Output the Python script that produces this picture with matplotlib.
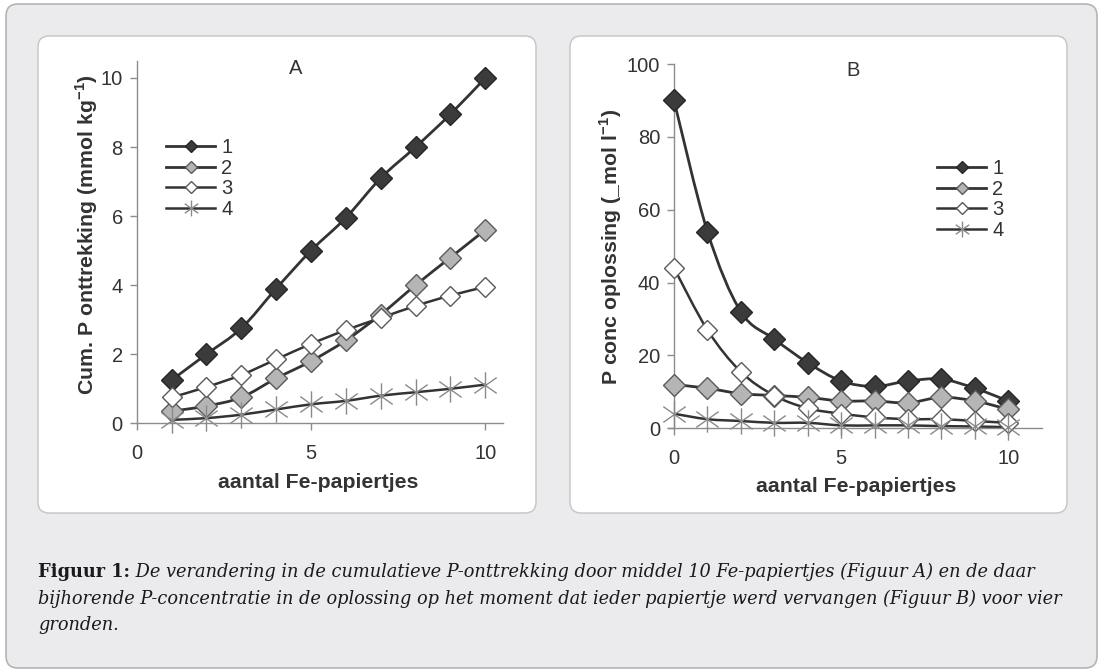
import numpy as np
import matplotlib
matplotlib.use("Agg")
import matplotlib.pyplot as plt
from matplotlib.path import Path
from matplotlib.patches import FancyBboxPatch, PathPatch
from matplotlib.lines import Line2D

# ---- data -------------------------------------------------------------
papers_a = [1, 2, 3, 4, 5, 6, 7, 8, 9, 10]
cum_p_1 = [1.25, 2.0, 2.75, 3.9, 5.0, 5.95, 7.1, 8.0, 8.95, 10.0]
cum_p_2 = [0.35, 0.5, 0.75, 1.3, 1.8, 2.4, 3.15, 4.0, 4.8, 5.6]
cum_p_3 = [0.75, 1.05, 1.4, 1.85, 2.3, 2.7, 3.05, 3.4, 3.7, 3.95]
cum_p_4 = [0.1, 0.15, 0.25, 0.4, 0.55, 0.65, 0.8, 0.9, 1.0, 1.12]

papers_b = [0, 1, 2, 3, 4, 5, 6, 7, 8, 9, 10]
conc_1 = [90, 54, 32, 24.5, 18, 13, 11.5, 13, 13.5, 11, 7.5]
conc_2 = [12, 11, 9.5, 9, 8.5, 7.5, 7.5, 7, 8.5, 7.5, 5.2]
conc_3 = [44, 27, 15.5, 9, 5.5, 4, 3, 2.5, 2.5, 2, 1.5]
conc_4 = [4, 2.5, 2, 1.5, 1.5, 0.8, 0.8, 0.8, 0.6, 0.5, 0.3]

series_labels = ["1", "2", "3", "4"]
x_ticks_a = [0, 5, 10]
y_ticks_a = [0, 2, 4, 6, 8, 10]
x_ticks_b = [0, 5, 10]
y_ticks_b = [0, 20, 40, 60, 80, 100]

caption_bold = "Figuur 1:"
caption_lines = [
    " De verandering in de cumulatieve P-onttrekking door middel 10 Fe-papiertjes (Figuur A) en de daar",
    "bijhorende P-concentratie in de oplossing op het moment dat ieder papiertje werd vervangen (Figuur B) voor vier",
    "gronden.",
]

# ---- figure setup -----------------------------------------------------
W, H = 1102, 670
DPI = 100
plt.rcParams["font.family"] = ["Liberation Sans", "DejaVu Sans"]
plt.rcParams["mathtext.fontset"] = "custom"
plt.rcParams["mathtext.rm"] = "Liberation Sans"
plt.rcParams["mathtext.bf"] = "Liberation Sans:bold"
fig = plt.figure(figsize=(W / DPI, H / DPI), dpi=DPI)
fig.patch.set_facecolor("white")

TICK_FS = 14.5
LABEL_FS = 15.3
TEXT_COLOR = "#333333"


def fx(px):
    return px / W


def fy(py):
    return 1 - py / H


def rounded_box(x0, y0, x1, y1, r, face, edge, lw, z):
    box = FancyBboxPatch((fx(x0 + r), fy(y1 - r)), fx(x1 - x0 - 2 * r), (y1 - y0 - 2 * r) / H,
                         boxstyle=f"round,pad={r / W},rounding_size={r / W}",
                         transform=fig.transFigure, facecolor=face, edgecolor=edge,
                         linewidth=lw, zorder=z, mutation_aspect=W / H)
    fig.patches.append(box)


rounded_box(6, 4, 1097, 668, 12, "#ebebed", "#b4b4b4", 1.2, -3)
rounded_box(38, 36, 536, 513, 11, "white", "#c4c4c4", 1.0, -2)
rounded_box(570, 36, 1067, 513, 11, "white", "#c4c4c4", 1.0, -2)

# asterisk marker: vertical stroke plus an X
star_path = Path(
    [(0, -1), (0, 1), (-0.85, -0.6), (0.85, 0.6), (-0.85, 0.6), (0.85, -0.6)],
    [Path.MOVETO, Path.LINETO, Path.MOVETO, Path.LINETO, Path.MOVETO, Path.LINETO],
)

styles = [
    dict(marker="D", ms=11, mfc="#3b3b3b", mec="#262626", mew=1.0),
    dict(marker="D", ms=11, mfc="#b5b5b5", mec="#5a5a5a", mew=1.0),
    dict(marker="D", ms=10, mfc="white", mec="#5a5a5a", mew=1.0),
    dict(marker=star_path, ms=19, mfc="none", mec="#8a8a8a", mew=1.0),
]
line_widths = [2.0, 2.0, 1.8, 1.8]
line_color = "#333333"


def smooth_path(xs, ys):
    """Bezier path through the points with Catmull-Rom style tangents."""
    pts = np.column_stack([np.asarray(xs, float), np.asarray(ys, float)])
    verts = [pts[0]]
    codes = [Path.MOVETO]
    n = len(pts)
    for i in range(n - 1):
        p0 = pts[i - 1] if i > 0 else pts[i]
        p1 = pts[i]
        p2 = pts[i + 1]
        p3 = pts[i + 2] if i + 2 < n else pts[i + 1]
        verts += [p1 + (p2 - p0) / 6.0, p2 - (p3 - p1) / 6.0, p2]
        codes += [Path.CURVE4] * 3
    return Path(verts, codes)


def draw_panel(ax, xs, series, xlim, ylim, xticks, yticks):
    for ys, lw in zip(series, line_widths):
        ax.add_patch(PathPatch(smooth_path(xs, ys), facecolor="none",
                               edgecolor=line_color, lw=lw, zorder=2))
    for ys, st in zip(series, styles):
        ax.plot(xs, ys, linestyle="none", zorder=3, clip_on=False, **st)
    ax.set_xlim(*xlim)
    ax.set_ylim(*ylim)
    ax.set_xticks(xticks)
    ax.set_yticks(yticks)
    ax.set_facecolor("none")
    for s in ["top", "right"]:
        ax.spines[s].set_visible(False)
    for s in ["left", "bottom"]:
        ax.spines[s].set_color("#8c8c8c")
        ax.spines[s].set_linewidth(1.0)
    ax.tick_params(axis="both", colors="#8c8c8c", length=5, width=1.0,
                   labelsize=TICK_FS, labelcolor=TEXT_COLOR, direction="out")
    ax.tick_params(axis="x", pad=10)
    ax.tick_params(axis="y", pad=5)


def legend_handles():
    hs = []
    for st, lw in zip(styles, line_widths):
        d = dict(st)
        d["ms"] = d["ms"] * 0.6
        hs.append(Line2D([], [], color=line_color, lw=lw, **d))
    return hs


def add_legend(x_px, y_px):
    leg = fig.legend(legend_handles(), series_labels, loc="upper left",
                     bbox_to_anchor=(fx(x_px), fy(y_px)), frameon=False, fontsize=TICK_FS,
                     handlelength=2.45, handletextpad=0.3, labelspacing=0.08,
                     borderaxespad=0, borderpad=0)
    for t in leg.get_texts():
        t.set_color(TEXT_COLOR)
    return leg


# ---- panel A ----------------------------------------------------------
axA = fig.add_axes([fx(136.7), fy(423.3), fx(502.7 - 136.7), (423.3 - 60.7) / H])
draw_panel(axA, papers_a, [cum_p_1, cum_p_2, cum_p_3, cum_p_4],
           (0, 10.5), (0, 10.5), x_ticks_a, y_ticks_a)
fig.text(fx(296), fy(69), "A", ha="center", va="center", fontsize=TICK_FS, color=TEXT_COLOR)
fig.text(fx(318), fy(483), "aantal Fe-papiertjes", ha="center", va="center",
         fontsize=LABEL_FS, fontweight="bold", color=TEXT_COLOR)
fig.text(fx(87), fy(235), "Cum. P onttrekking (mmol kg$^{\\mathbf{-1}}$)", ha="center", va="center",
         rotation=90, fontsize=LABEL_FS, fontweight="bold", color=TEXT_COLOR)
add_legend(166, 138)

# ---- panel B ----------------------------------------------------------
x0b, x11b = 674.0, 1041.7
unit_b = (x11b - x0b) / 11.0
left_b = x0b - 0.17 * unit_b
axB = fig.add_axes([fx(left_b), fy(428.3), fx(x11b - left_b), (428.3 - 64) / H])
draw_panel(axB, papers_b, [conc_1, conc_2, conc_3, conc_4],
           (-0.17, 11), (0, 100), x_ticks_b, y_ticks_b)
axB.spines["left"].set_position(("data", 0))
fig.text(fx(853), fy(70), "B", ha="center", va="center", fontsize=TICK_FS, color=TEXT_COLOR)
fig.text(fx(856), fy(487), "aantal Fe-papiertjes", ha="center", va="center",
         fontsize=LABEL_FS, fontweight="bold", color=TEXT_COLOR)
fig.text(fx(611), fy(247), "P conc oplossing (_mol l$^{\\mathbf{-1}}$)", ha="center", va="center",
         rotation=90, fontsize=LABEL_FS, fontweight="bold", color=TEXT_COLOR)
add_legend(937, 159)

# ---- caption ----------------------------------------------------------
serif = ["DejaVu Serif", "Liberation Serif"]
line_y = [572, 598.5, 625]
cap_left, cap_right = 38, 1061
fig.canvas.draw()
renderer = fig.canvas.get_renderer()

# pick the caption size so that the widest line fills the text column
base = 10.0
probe_b = fig.text(0, 0, caption_bold, fontsize=base, fontweight="bold", family=serif)
probe_1 = fig.text(0, 0, caption_lines[0], fontsize=base, style="italic", family=serif)
probe_2 = fig.text(0, 0, caption_lines[1], fontsize=base, style="italic", family=serif)
w1 = probe_b.get_window_extent(renderer).width + probe_1.get_window_extent(renderer).width
w2 = probe_2.get_window_extent(renderer).width
for p in (probe_b, probe_1, probe_2):
    p.remove()
cap_size = base * (cap_right - cap_left) / max(w1, w2)

tb = fig.text(fx(cap_left), fy(line_y[0]), caption_bold, ha="left", va="center",
              fontsize=cap_size, fontweight="bold", family=serif, color="#1a1a1a")
bb = tb.get_window_extent(renderer)
fig.text(bb.x1 / W, fy(line_y[0]), caption_lines[0], ha="left", va="center",
         fontsize=cap_size, style="italic", family=serif, color="#1a1a1a")
for txt, yy in zip(caption_lines[1:], line_y[1:]):
    fig.text(fx(cap_left), fy(yy), txt, ha="left", va="center",
             fontsize=cap_size, style="italic", family=serif, color="#1a1a1a")

fig.savefig("out.png", dpi=DPI)
